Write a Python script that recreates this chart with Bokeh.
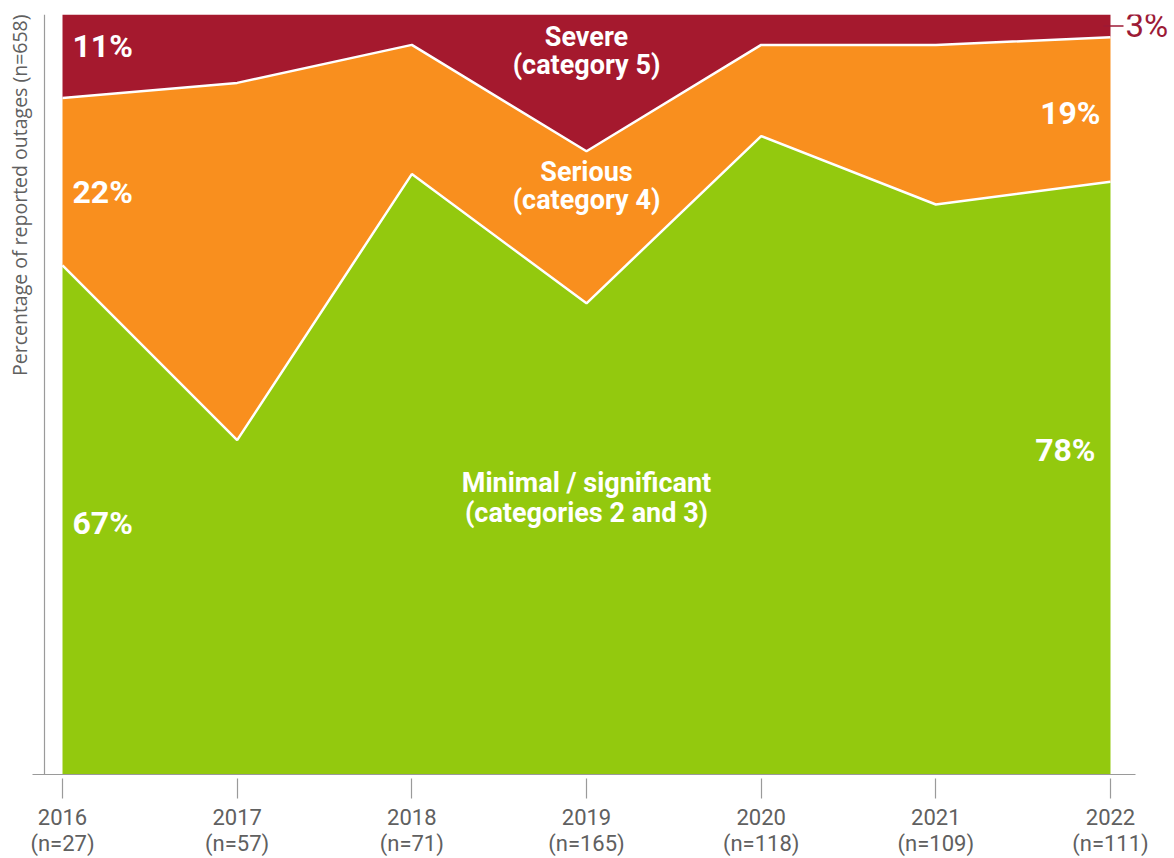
from bokeh.plotting import figure
from bokeh.models import LinearAxis, FixedTicker, Span, Title, Range1d, ColumnDataSource
from bokeh.core.properties import value
from bokeh.embed import file_html
from bokeh.resources import INLINE

# ---------------- data ----------------
years = [2016, 2017, 2018, 2019, 2020, 2021, 2022]
sample_sizes = [27, 57, 71, 165, 118, 109, 111]
minimal = [67, 44, 79, 62, 84, 75, 78]   # Minimal / significant (categories 2 and 3)
serious = [22, 47, 17, 20, 12, 21, 19]   # Serious (category 4)
severe = [11, 9, 4, 18, 4, 4, 3]         # Severe (category 5)

tick_labels = {y: f"{y}\n(n={n})" for y, n in zip(years, sample_sizes)}
y_label = "Percentage of reported outages (n=658)"

series_titles = [["Severe", "(category 5)"],
                 ["Serious", "(category 4)"],
                 ["Minimal / significant", "(categories 2 and 3)"]]

GREEN = "#93c90e"
ORANGE = "#f98f1e"
RED = "#a5192e"
DARKRED = "#9c1a36"
GREY_TXT = "#606060"
GREY_LINE = "#9a9a9a"
FONT = "Roboto"

cum1 = list(minimal)
cum2 = [a + b for a, b in zip(minimal, serious)]

src = ColumnDataSource(dict(year=years, minimal=minimal, serious=serious, severe=severe))

# ---------------- figure ----------------
px_per_year = 1048 / 6.0
x_start = 2016 - 30 / px_per_year
x_end = 2022 + 64 / px_per_year

p = figure(width=1174, height=858, output_backend="svg", toolbar_location=None,
           x_axis_type=None, y_axis_type=None,
           x_range=Range1d(x_start, x_end), y_range=Range1d(0, 100),
           min_border_left=32, min_border_right=0, min_border_top=14, min_border_bottom=80)
p.outline_line_color = None
p.xgrid.visible = False
p.ygrid.visible = False
p.background_fill_color = "white"
p.border_fill_color = "white"

p.varea_stack(["minimal", "serious", "severe"], x="year", color=[GREEN, ORANGE, RED], source=src)
p.line(years, cum1, line_color="white", line_width=2.5)
p.line(years, cum2, line_color="white", line_width=2.5)

# y axis line (no ticks)
p.add_layout(Span(location=2016 - 18 / px_per_year, dimension="height",
                  line_color=GREY_LINE, line_width=1.2))

# x axis
xaxis = LinearAxis(ticker=FixedTicker(ticks=years), major_label_overrides=tick_labels,
                   bounds=(x_start, 2022 + 25 / px_per_year),
                   axis_line_color=GREY_LINE, axis_line_width=1.2,
                   major_tick_line_color=GREY_LINE, major_tick_line_width=1.2,
                   major_tick_in=-4, major_tick_out=24,
                   minor_tick_line_color=None,
                   major_label_text_font=FONT, major_label_text_font_size="22px",
                   major_label_text_line_height=1.05,
                   major_label_text_color=GREY_TXT, major_label_standoff=6)
p.add_layout(xaxis, "below")

# y axis title
p.add_layout(Title(text=y_label, align="right", text_font="Open Sans", text_font_size="19.5px",
                   text_font_style="normal", text_color=GREY_TXT, standoff=0), "left")

# percentage labels (left side, 2016)
pct_left = dict(x=[2016 + 10 / px_per_year] * 3,
                y=[95.9, 76.6, 33.1],
                t=[f"{severe[0]}%", f"{serious[0]}%", f"{minimal[0]}%"])
p.text(x="x", y="y", text="t", source=ColumnDataSource(pct_left),
       text_font=value(FONT), text_font_style="bold", text_font_size="32px",
       text_color="white", text_align="left", text_baseline="middle")

# percentage labels (right side, 2022)
pct_right = dict(x=[2022 - 10 / px_per_year, 2022 - 15 / px_per_year],
                 y=[87.1, 42.7],
                 t=[f"{serious[-1]}%", f"{minimal[-1]}%"])
p.text(x="x", y="y", text="t", source=ColumnDataSource(pct_right),
       text_font=value(FONT), text_font_style="bold", text_font_size="32px",
       text_color="white", text_align="right", text_baseline="middle")

# 3% callout outside the area
mid_sev = 100 - severe[-1] / 2
p.segment(x0=[2022 - 7 / px_per_year], y0=[mid_sev], x1=[2022 + 13 / px_per_year], y1=[mid_sev],
          line_color=DARKRED, line_width=1.5)
p.text(x=[2022 + 15 / px_per_year], y=[mid_sev], text=[f"{severe[-1]}%"],
       text_font=value(FONT), text_font_size="33px", text_color=DARKRED,
       text_align="left", text_baseline="middle")

# series name labels
name_lbl = dict(x=[2019] * 6,
                y=[97.1, 93.3, 79.3, 75.6, 38.4, 34.4],
                t=[s for pair in series_titles for s in pair])
p.text(x="x", y="y", text="t", source=ColumnDataSource(name_lbl),
       text_font=value(FONT), text_font_style="bold", text_font_size="27px",
       text_color="white", text_align="center", text_baseline="middle")

open("out.html", "w").write(file_html(p, INLINE))
